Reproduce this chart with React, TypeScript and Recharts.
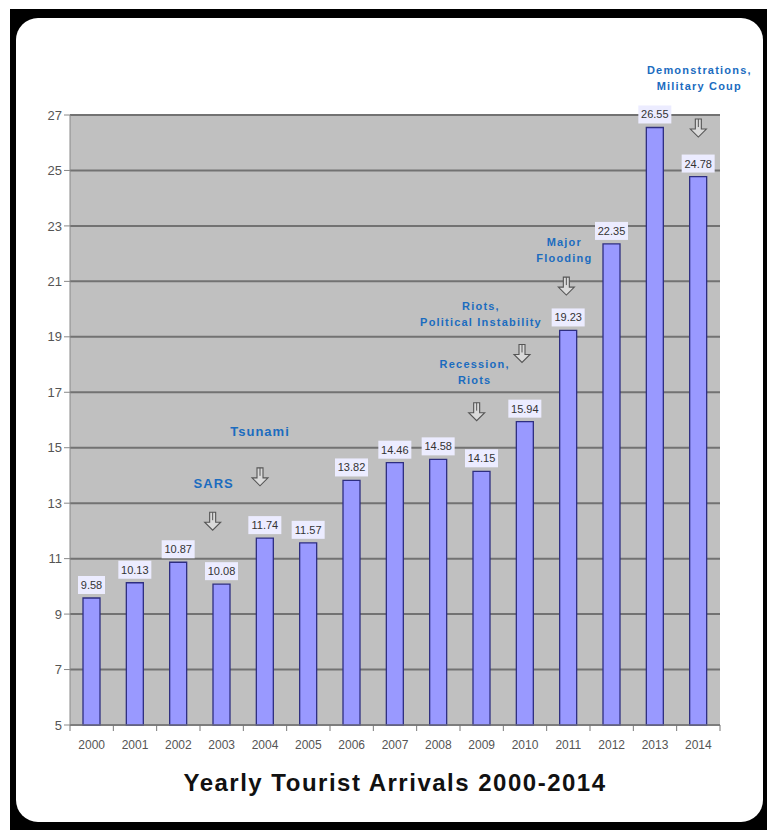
/**
 * Yearly tourist arrivals bar chart (millions), Excel-style look with event notes.
 */
import { BarChart, Bar, XAxis, YAxis, CartesianGrid, LabelList, ReferenceDot } from "recharts";

const YEARS = ["2000", "2001", "2002", "2003", "2004", "2005", "2006", "2007", "2008", "2009", "2010", "2011", "2012", "2013", "2014"];
const ARRIVALS = [9.58, 10.13, 10.87, 10.08, 11.74, 11.57, 13.82, 14.46, 14.58, 14.15, 15.94, 19.23, 22.35, 26.55, 24.78];
const Y_TICKS = [5, 7, 9, 11, 13, 15, 17, 19, 21, 23, 25, 27];

// Event notes: which year they point at, the text, and where (in data units) text and arrow sit
const EVENT_YEARS = ["2003", "2004", "2009", "2010", "2011", "2014"];
const EVENT_LINES = [
  ["SARS"],
  ["Tsunami"],
  ["Recession,", "Riots"],
  ["Riots,", "Political Instability"],
  ["Major", "Flooding"],
  ["Demonstrations,", "Military Coup"],
];
const EVENT_TEXT_AT = [13.7, 15.6, 17.73, 19.82, 22.13, 28.33];
const EVENT_ARROW_AT = [12.35, 13.95, 16.3, 18.4, 20.83, 26.53];

// layout nudges (px) so the notes sit where the original put them
const TEXT_DX = [-8, -5, -7, -44, -4, 1];
const ARROW_DX = [-9, -5, -5, -3, -2, 0];
const TEXT_SIZE = [13, 13, 11, 11, 11, 11];

const data = YEARS.map((year, i) => ({ year, value: ARRIVALS[i] }));

const NOTE_BLUE = "#1b6cbf";
const FONT = "Liberation Sans, Arial, sans-serif";

function ValueBox(props: any) {
  const { x, y, width, value } = props;
  const label = Number(value).toFixed(2);
  const w = label.length * 6 + 3;
  const cx = x + width / 2;
  return (
    <g>
      <rect x={cx - w / 2} y={y - 22} width={w} height={18} fill="#ececff" />
      <text x={cx} y={y - 9} textAnchor="middle" fontSize={11} fill="#333" fontFamily={FONT}>
        {label}
      </text>
    </g>
  );
}

function XTick(props: any) {
  const { x, y, payload, index, visibleTicksCount } = props;
  const half = payload.offset || 0;
  return (
    <g>
      <line x1={x - half} x2={x - half} y1={y - 8} y2={y - 2} stroke="#777" />
      {index === visibleTicksCount - 1 && <line x1={x + half} x2={x + half} y1={y - 8} y2={y - 2} stroke="#777" />}
      <text x={x} y={y + 16} textAnchor="middle" fontSize={12} fill="#555" fontFamily={FONT}>
        {payload.value}
      </text>
    </g>
  );
}

function makeNoteText(i: number) {
  return (p: any) => {
    const lines = EVENT_LINES[i];
    const size = TEXT_SIZE[i];
    const lh = 16;
    const top = p.cy - ((lines.length - 1) * lh) / 2;
    return (
      <text
        textAnchor="middle"
        fontSize={size}
        fontWeight="bold"
        fill={NOTE_BLUE}
        fontFamily={FONT}
        letterSpacing={size > 12 ? 1 : 1.2}
      >
        {lines.map((ln, k) => (
          <tspan key={k} x={p.cx + TEXT_DX[i]} y={top + k * lh + size * 0.35}>
            {ln}
          </tspan>
        ))}
      </text>
    );
  };
}

function makeArrow(i: number) {
  return (p: any) => {
    const cx = p.cx + ARROW_DX[i];
    const cy = p.cy;
    const d = `M${cx - 3},${cy - 9} L${cx - 3},${cy + 1} L${cx - 8},${cy + 1} L${cx},${cy + 9} L${cx + 8},${cy + 1} L${cx + 3},${cy + 1} L${cx + 3},${cy - 9} Z`;
    return (
      <g>
        <path d={d} fill="#dadada" stroke="#555" strokeWidth={1.1} />
        <line x1={cx} x2={cx} y1={cy - 9} y2={cy - 1} stroke="#555" strokeWidth={1} />
      </g>
    );
  };
}

export default function App() {
  return (
    <div style={{ position: "absolute", left: 0, top: 0, width: 770, height: 838, background: "#fff" }}>
      {/* black frame with rounded white card */}
      <div style={{ position: "absolute", left: 10, top: 9, width: 757, height: 821, background: "#000" }} />
      <div style={{ position: "absolute", left: 16, top: 18, width: 747, height: 804, background: "#fff", borderRadius: 22 }} />

      <div style={{ position: "absolute", left: 0, top: 0 }}>
        <BarChart width={770} height={838} data={data} margin={{ top: 115, right: 50, bottom: 83, left: 28 }}>
          <CartesianGrid vertical={false} fill="#c0c0c0" stroke="#727272" strokeWidth={2} />
          <XAxis
            dataKey="year"
            axisLine={{ stroke: "#888" }}
            tickLine={false}
            tick={<XTick />}
            height={30}
            interval={0}
          />
          <YAxis
            domain={[5, 27]}
            ticks={Y_TICKS}
            width={42}
            axisLine={{ stroke: "#888" }}
            tickLine={{ stroke: "#888" }}
            tickSize={6}
            tick={{ fontSize: 13, fill: "#555", fontFamily: FONT }}
          />
          <Bar dataKey="value" fill="#9999ff" stroke="#2e2e80" strokeWidth={1.3} barSize={17} isAnimationActive={false}>
            <LabelList dataKey="value" content={<ValueBox />} />
          </Bar>
          {EVENT_YEARS.map((yr, i) => (
            <ReferenceDot key={"a" + i} x={yr} y={EVENT_ARROW_AT[i]} ifOverflow="visible" shape={makeArrow(i)} />
          ))}
          {EVENT_YEARS.map((yr, i) => (
            <ReferenceDot key={"t" + i} x={yr} y={EVENT_TEXT_AT[i]} ifOverflow="visible" shape={makeNoteText(i)} />
          ))}
        </BarChart>
      </div>

      <div
        style={{
          position: "absolute",
          left: 70,
          width: 650,
          top: 769,
          textAlign: "center",
          fontFamily: FONT,
          fontSize: 24,
          fontWeight: "bold",
          letterSpacing: 1.5,
          color: "#111",
          lineHeight: "28px",
        }}
      >
        Yearly Tourist Arrivals 2000-2014
      </div>
    </div>
  );
}
